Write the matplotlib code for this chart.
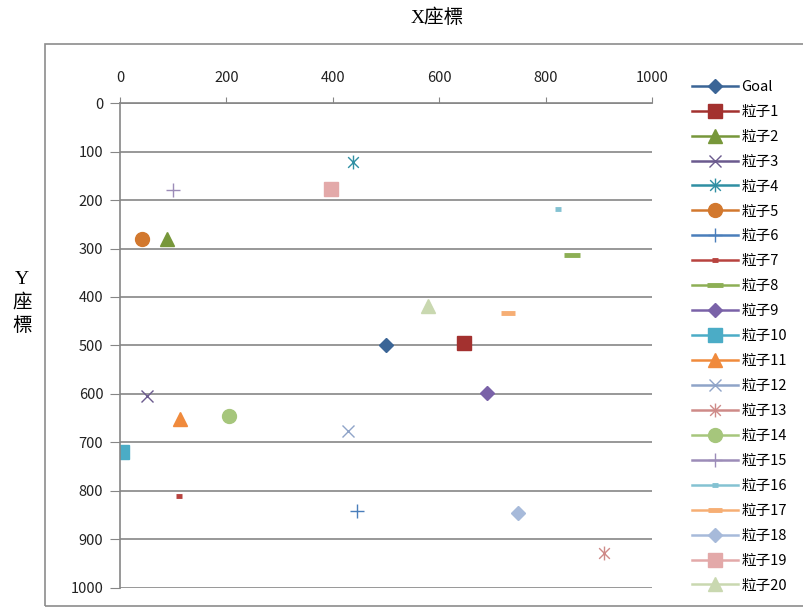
import matplotlib

matplotlib.use("Agg")
import matplotlib.pyplot as plt
import numpy as np
from matplotlib.patches import Rectangle
from matplotlib.path import Path

plt.rcParams["font.family"] = ["Noto Sans CJK TC", "DejaVu Sans"]

LABELS = ["Goal"] + [f"粒子{i}" for i in range(1, 21)]
X_VALUES = [500, 647, 88, 51, 438, 41, 446, 110, 850, 689, 4,
            113, 429, 910, 205, 99, 824, 729, 748, 396, 579]
Y_VALUES = [500, 495, 280, 605, 122, 280, 843, 811, 313, 598, 720,
            653, 677, 928, 646, 179, 218, 433, 847, 176, 418]
COLORS = ["#3B6596", "#A3312F", "#77973A", "#6B5A8E", "#2F8FA3",
          "#D2782E", "#4A7EBB", "#B8433F", "#8DAF55", "#7A62A8",
          "#4BACC6", "#F08A3C", "#8FA4C8", "#CE8A88", "#A6C67C",
          "#9C8CB8", "#84C2D2", "#F6AE74", "#A7BADA", "#E3A9A9",
          "#C9D8B0"]

# Excel-style asterisk: an x with a vertical stroke
STAR = Path(
    [(-1, -1), (1, 1), (-1, 1), (1, -1), (0, -1.3), (0, 1.3)],
    [Path.MOVETO, Path.LINETO, Path.MOVETO, Path.LINETO, Path.MOVETO, Path.LINETO],
)
# marker, size, edge width
STYLES = [
    ("D", 7, 1), ("s", 10, 1), ("^", 10, 1), ("x", 9, 1), (STAR, 10, 1),
    ("o", 10, 1), ("+", 10, 1), ("_", 5, 3.5), ("_", 11, 3.5), ("D", 7, 1),
    ("s", 10, 1), ("^", 10, 1), ("x", 9, 1), (STAR, 10, 1), ("o", 10, 1),
    ("+", 10, 1), ("_", 5, 3.5), ("_", 10, 3.5), ("D", 7, 1), ("s", 10, 1),
    ("^", 10, 1),
]

fig = plt.figure(figsize=(8.04, 6.08), dpi=100)
W, H = 804, 608
ax = fig.add_axes([120 / W, 1 - 587.5 / H, 532 / W, 484.2 / H])

fig.patches.append(Rectangle((45 / W, 1 - 606 / H), 1.0, 562 / H,
                             transform=fig.transFigure, fill=False,
                             edgecolor="#8c8c8c", linewidth=1.2))

for label, x, y, color, (marker, size, mew) in zip(LABELS, X_VALUES, Y_VALUES, COLORS, STYLES):
    ax.plot([x], [y], linestyle="-", linewidth=1.8, color=color, marker=marker,
            markersize=size, markeredgewidth=mew, markeredgecolor=color,
            markerfacecolor=color, label=label)

ax.set_xlim(0, 1000)
ax.set_ylim(1000, 0)
ax.xaxis.tick_top()
ax.set_xticks(np.arange(0, 1001, 200))
ax.set_yticks(np.arange(0, 1001, 100))
ax.tick_params(axis="x", direction="out", length=4, color="#868686",
               pad=9, labelsize=10.5, labelcolor="#222222")
ax.tick_params(axis="y", direction="out", length=7, color="#868686",
               pad=5, labelsize=10.5, labelcolor="#222222")
ax.grid(axis="y", color="#868686", linewidth=1.2)
ax.set_axisbelow(True)
for side in ["right", "bottom"]:
    ax.spines[side].set_visible(False)
for side in ["left", "top"]:
    ax.spines[side].set_color("#868686")
    ax.spines[side].set_linewidth(1.2)

fig.text(437 / W, 1 - 18 / H, "X座標", ha="center", va="center",
         fontsize=14, family=["Liberation Serif", "Noto Sans CJK TC"])
fig.text(22 / W, 1 - 303 / H, "Y\n座\n標", ha="center", va="center",
         fontsize=14, linespacing=1.4,
         family=["Liberation Serif", "Noto Sans CJK TC"])

ax.legend(loc="upper left", bbox_to_anchor=(686 / W, 1 - 74 / H),
          bbox_transform=fig.transFigure, frameon=False, fontsize=10.5,
          handlelength=3.2, handletextpad=0.2, labelspacing=0.75,
          borderaxespad=0)

fig.savefig("out.png", dpi=100)
